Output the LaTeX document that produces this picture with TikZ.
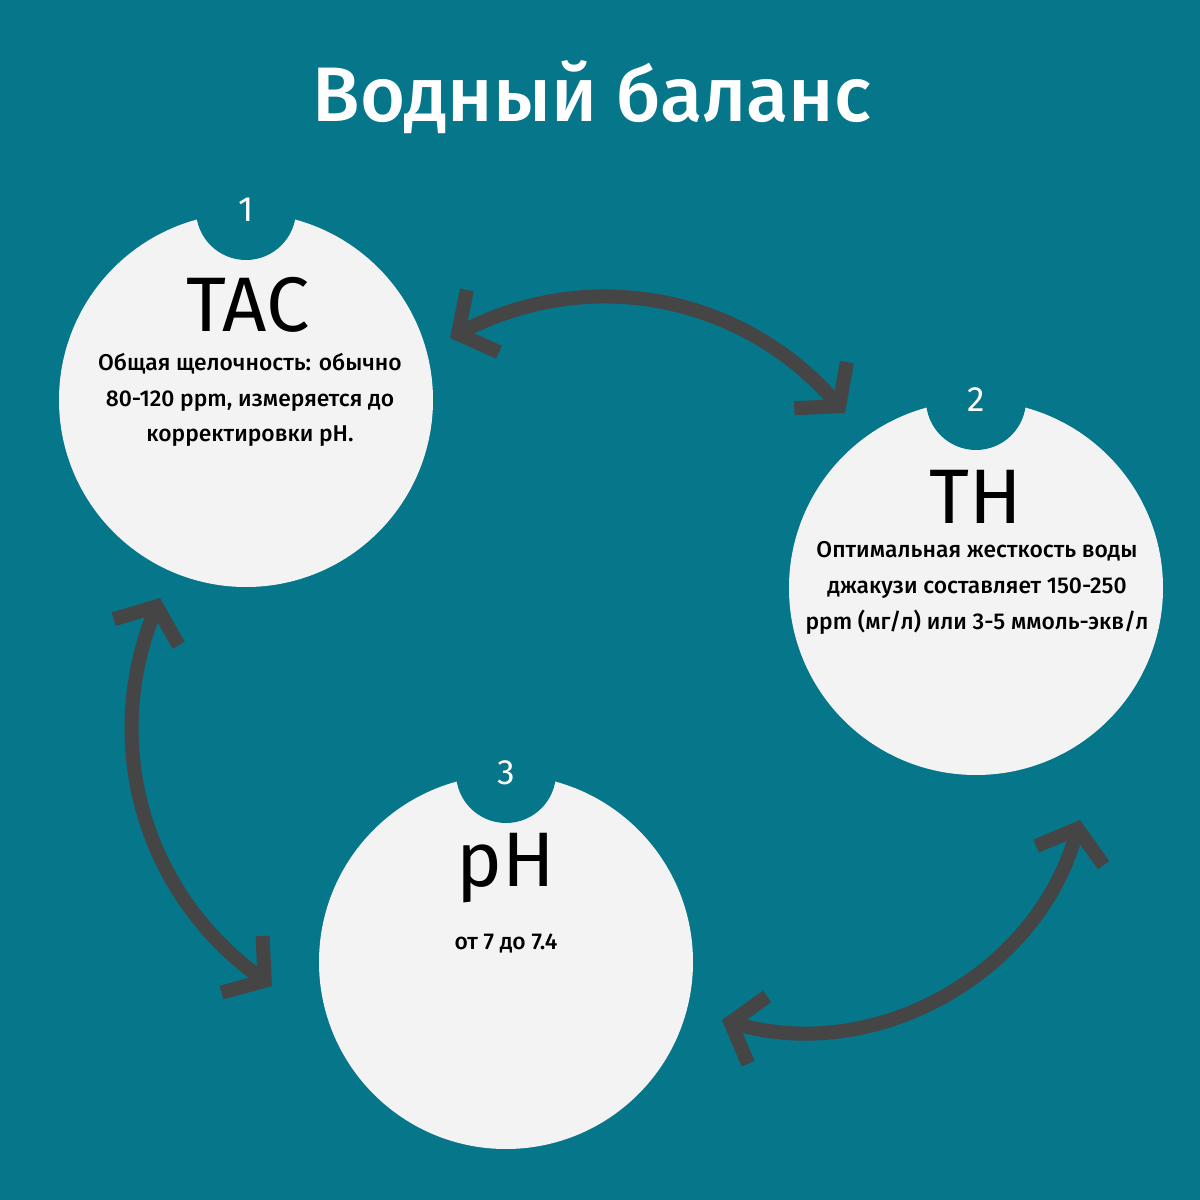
\documentclass[tikz,border=0pt]{standalone}
\usepackage{fontspec}
\setmainfont{Fira Sans}
\usepackage{xcolor}
\usetikzlibrary{arrows.meta}
\definecolor{teal1}{HTML}{06768A}
\definecolor{disk}{HTML}{F3F3F3}
\definecolor{arr}{HTML}{454545}
\tikzset{disc/.style={circle,fill=disk,minimum size=3.74cm,inner sep=0},
  notch/.style={circle,fill=teal1,minimum size=1cm,inner sep=0,text=white,font=\fontsize{10}{10}\selectfont},
  big/.style={font=\fontsize{22}{22}\selectfont,text=black},
  body/.style={align=center,font=\fontsize{6.5}{10.2}\selectfont\fontspec{Fira Sans Medium},text=black},
  link/.style={draw=arr,line width=4pt,{Straight Barb[length=2.8mm,width=7mm,line width=4pt]}-{Straight Barb[length=2.8mm,width=7mm,line width=4pt]}}}

\begin{document}
\begin{tikzpicture}
    \fill[teal1] (0,0) rectangle (12,12);
    \useasboundingbox (0,0) rectangle (12,12);

    \node[white,font=\fontsize{22}{22}\selectfont\fontspec{Fira Sans Medium}] (title) at (5.92,11.03) {Водный баланс};

    \node[disc] (tac) at (2.46,8.0) {};
    \node[notch] (n1) at (2.46,9.9) {1};
    \node[big] (tact) at (2.48,8.95) {TAC};
    \node[body] (tacb) at (2.5,8.0) {Общая щелочность: обычно\\80-120 ppm, измеряется до\\корректировки pH.};

    \node[disc] (th) at (9.76,6.12) {};
    \node[notch] (n2) at (9.76,8.0) {2};
    \node[big] (tht) at (9.76,7.03) {TH};
    \node[body] (thb) at (9.77,6.12) {Оптимальная жесткость воды\\джакузи составляет 150-250\\ppm (мг/л) или 3-5 ммоль-экв/л};

    \node[disc] (ph) at (5.06,2.38) {};
    \node[notch] (n3) at (5.06,4.27) {3};
    \node[big] (pht) at (5.06,3.32) {pH};
    \node[body] (phb) at (5.06,2.57) {от 7 до 7.4};

    \coordinate (a1) at (4.5,8.62);
    \coordinate (b1) at (8.45,7.87);
    \coordinate (a2) at (1.6,6.02);
    \coordinate (b2) at (2.72,2.14);
    \coordinate (a3) at (7.22,1.8);
    \coordinate (b3) at (10.8,3.8);

    \draw[link] (a1) to[bend left=38] (b1);
    \draw[link] (a2) to[bend right=38] (b2);
    \draw[link] (a3) to[bend right=45] (b3);
\end{tikzpicture}
\end{document}
